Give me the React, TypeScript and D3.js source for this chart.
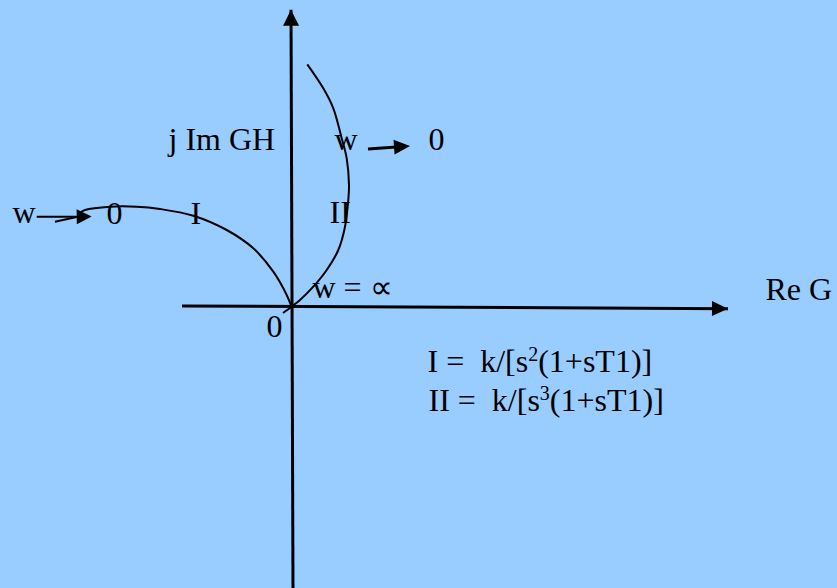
import React from "react";
import * as d3 from "d3";

// Polar-plot data in (Re, Im) units
const curveI: [number, number][] = [
  [-2.115, 0.94], [-2.065, 0.967], [-1.815, 1.0], [-1.548, 1.0], [-1.315, 0.977],
  [-0.982, 0.91], [-0.648, 0.767], [-0.382, 0.584], [-0.182, 0.35], [-0.048, 0.117], [0, 0],
];
const curveII: [number, number][] = [
  [0.158, 2.424], [0.318, 2.184], [0.418, 1.984], [0.502, 1.684], [0.552, 1.484],
  [0.575, 1.217], [0.568, 1.067], [0.535, 0.8], [0.468, 0.567], [0.352, 0.367],
  [0.218, 0.2], [0.085, 0.067], [0, 0], [-0.085, -0.063],
];
const reAxis: [number, number][] = [[-1.095, 0.007], [4.365, -0.02]];
const imAxis: [number, number][] = [[0.015, -2.82], [-0.005, 2.97]];
// annotation arrows "w -> 0"
const leftArrowLines: [number, number][][] = [
  [[-2.548, 0.9], [-2.148, 0.9]],
  [[-2.365, 0.85], [-2.115, 0.905]],
];
const leftArrowTip: [number, number][] = [[-2.145, 0.9], [-1.998, 0.902]];
const rightArrow: [number, number][] = [[0.765, 1.577], [1.185, 1.607]];

type Label = { text: string; re: number; im: number };
const labels: Label[] = [
  { text: "j Im GH", re: -1.23, im: 1.567 },
  { text: "w", re: 0.43, im: 1.567 },
  { text: "0", re: 1.37, im: 1.567 },
  { text: "w", re: -2.79, im: 0.837 },
  { text: "0", re: -1.85, im: 0.827 },
  { text: "I", re: -1.01, im: 0.827 },
  { text: "II", re: 0.38, im: 0.837 },
  { text: "w = ∝", re: 0.21, im: 0.087 },
  { text: "0", re: -0.25, im: -0.303 },
  { text: "Re G", re: 4.74, im: 0.067 },
];
const formulaPrefix = ["I =  k/[s", "II =  k/[s"];
const formulaPower = ["2", "3"];
const formulaSuffix = ["(1+sT1)]", "(1+sT1)]"];
const formulaPos: [number, number][] = [[1.36, -0.653], [1.37, -1.043]];

const W = 837, H = 588;
const x = d3.scaleLinear().domain([0, 1]).range([291.5, 391.5]);
const y = d3.scaleLinear().domain([0, 1]).range([306.7, 206.7]);

function arrowHead(p0: [number, number], p1: [number, number], len: number, half: number) {
  const x0 = x(p0[0]), y0 = y(p0[1]), x1 = x(p1[0]), y1 = y(p1[1]);
  const dx = x1 - x0, dy = y1 - y0;
  const L = Math.hypot(dx, dy);
  const ux = dx / L, uy = dy / L;
  const bx = x1 - ux * len, by = y1 - uy * len;
  return `M${x1},${y1}L${bx - uy * half},${by + ux * half}L${bx + uy * half},${by - ux * half}Z`;
}

export default function App() {
  const line = d3.line<[number, number]>().x(d => x(d[0])).y(d => y(d[1]));
  const smooth = d3.line<[number, number]>().x(d => x(d[0])).y(d => y(d[1])).curve(d3.curveCatmullRom);
  const font = "'Liberation Serif', 'Times New Roman', serif";
  const fs = 32;
  return (
    <svg width={W} height={H} style={{ position: "absolute", left: 0, top: 0, display: "block" }}>
      <rect x={0} y={0} width={W} height={H} fill="#99CCFF" />
      {/* axes */}
      <path d={line([reAxis[0], reAxis[1]]) || ""} stroke="#000" strokeWidth={3} fill="none" />
      <path d={arrowHead(reAxis[0], reAxis[1], 16, 7.5)} fill="#000" />
      <path d={line([imAxis[0], imAxis[1]]) || ""} stroke="#000" strokeWidth={3} fill="none" />
      <path d={arrowHead(imAxis[0], imAxis[1], 16, 8)} fill="#000" />
      {/* curves */}
      <path d={smooth(curveI) || ""} stroke="#000" strokeWidth={2} fill="none" />
      <path d={smooth(curveII) || ""} stroke="#000" strokeWidth={2} fill="none" />
      {/* annotation arrows */}
      {leftArrowLines.map((l, i) => (
        <path key={i} d={line(l) || ""} stroke="#000" strokeWidth={2} fill="none" />
      ))}
      <path d={arrowHead(leftArrowTip[0], leftArrowTip[1], 15, 7.5)} fill="#000" />
      <path d={line([rightArrow[0], [rightArrow[1][0] - 0.1, rightArrow[1][1] - 0.007]]) || ""} stroke="#000" strokeWidth={3} fill="none" />
      <path d={arrowHead(rightArrow[0], rightArrow[1], 16, 7.5)} fill="#000" />
      {/* labels */}
      {labels.map((lb, i) => (
        <text key={i} x={x(lb.re)} y={y(lb.im)} fontFamily={font} fontSize={fs} fill="#000" style={{ whiteSpace: "pre" }}>
          {lb.text}
        </text>
      ))}
      {formulaPrefix.map((p, i) => (
        <text key={"f" + i} x={x(formulaPos[i][0])} y={y(formulaPos[i][1])} fontFamily={font} fontSize={fs} fill="#000" style={{ whiteSpace: "pre" }}>
          {p}
          <tspan fontSize={20} dy={-11}>{formulaPower[i]}</tspan>
          <tspan dy={11}>{formulaSuffix[i]}</tspan>
        </text>
      ))}
    </svg>
  );
}
